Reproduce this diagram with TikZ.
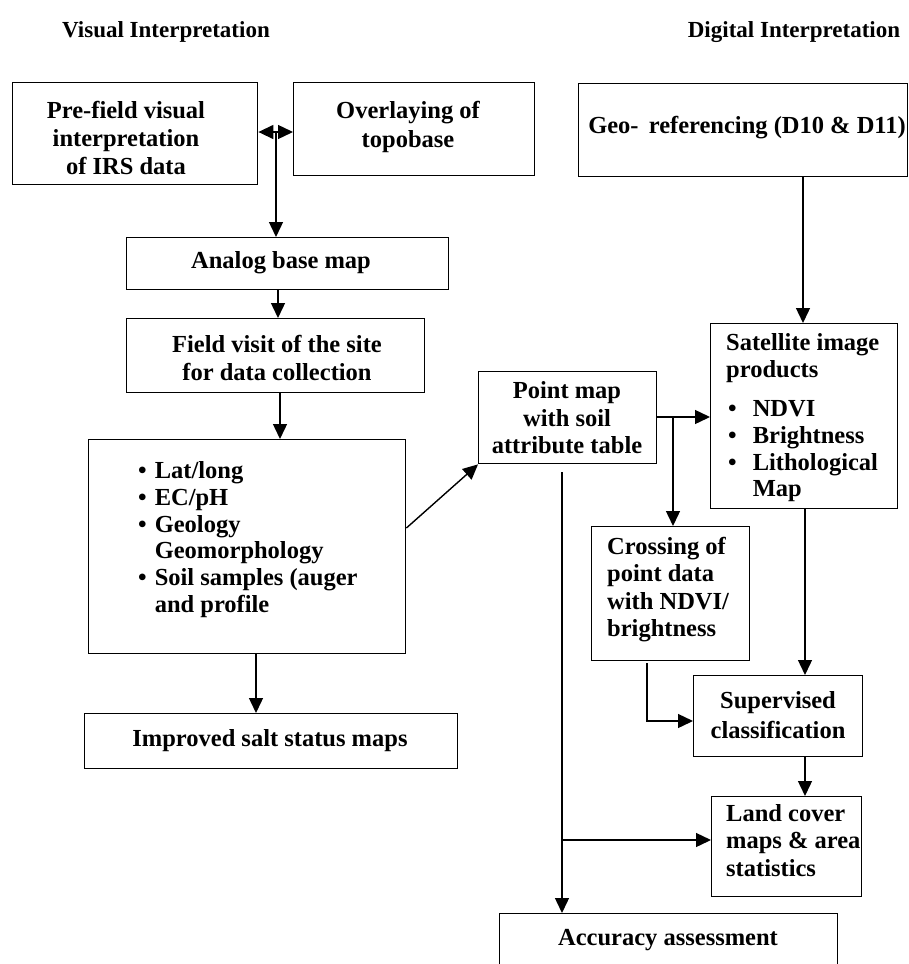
\documentclass[tikz,border=0pt]{standalone}
\usepackage{fontspec}
\setmainfont{Liberation Serif}
\usetikzlibrary{arrows.meta}
\begin{document}
\begin{tikzpicture}[x=1pt,y=-1pt,
  box/.style={draw,line width=1.4pt,inner sep=0pt,anchor=north west},
  txt/.style={font=\fontsize{24.5}{28}\selectfont\bfseries,align=center,inner sep=0pt},
  ltxt/.style={font=\fontsize{24.5}{27.5}\selectfont\bfseries,align=left,inner sep=0pt,anchor=north west},
  ttl/.style={font=\fontsize{23}{27}\selectfont\bfseries,inner sep=0pt},
  tip/.tip={Triangle[width=14pt,length=15pt]},
  arr/.style={line width=1.4pt,-tip},
  ln/.style={line width=1.4pt}]
\useasboundingbox (0,0) rectangle (909,964);
% titles
\node[ttl] (t1) at (166,32) {Visual Interpretation};
\node[ttl] (t2) at (794,32) {Digital Interpretation};
% boxes
\node[box,minimum width=245pt,minimum height=102pt] (pre) at (12,82) {};
\node[txt] (pret) at (126,138) {Pre-field visual\\interpretation\\of IRS data};
\node[box,minimum width=241pt,minimum height=93pt] (over) at (293,82) {};
\node[txt,font=\fontsize{24.5}{29}\selectfont\bfseries] (overt) at (408,127) {Overlaying of\\topobase};
\node[box,minimum width=329pt,minimum height=93pt] (geo) at (578,83) {};
\node[txt] (geot) at (747,128) {Geo-\, referencing (D10 \& D11)};
\node[box,minimum width=322pt,minimum height=52pt] (analog) at (126,237) {};
\node[txt] (analogt) at (281,263) {Analog base map};
\node[box,minimum width=298pt,minimum height=74pt] (field) at (126,318) {};
\node[txt] (fieldt) at (277,358) {Field visit of the site\\for data collection};
\node[box,minimum width=317pt,minimum height=214pt] (obs) at (88,439) {};
\node[ltxt,font=\fontsize{24.5}{26.7}\selectfont\bfseries] (obst) at (138,460) {%
\begin{tabular}{@{}l@{\hspace{8pt}}l@{}}
\textbullet & Lat/long\\
\textbullet & EC/pH\\
\textbullet & Geology\\
 & Geomorphology\\
\textbullet & Soil samples (auger\\
 & and profile
\end{tabular}};
\node[box,minimum width=373pt,minimum height=55pt] (imp) at (84,713) {};
\node[txt] (impt) at (270,741) {Improved salt status maps};
\node[box,minimum width=178pt,minimum height=92pt] (point) at (478,371) {};
\node[txt,font=\fontsize{24.5}{27.5}\selectfont\bfseries] (pointt) at (567,418) {Point map\\with soil\\attribute table};
\node[box,minimum width=187pt,minimum height=185pt] (sat) at (710,323) {};
\node[ltxt] (satt) at (726,333) {Satellite image\\products};
\node[ltxt,font=\fontsize{24.5}{26.7}\selectfont\bfseries] (satl) at (728,398) {%
\begin{tabular}{@{}l@{\hspace{16pt}}l@{}}
\textbullet & NDVI\\
\textbullet & Brightness\\
\textbullet & Lithological\\
 & Map
\end{tabular}};
\node[box,minimum width=158pt,minimum height=134pt] (cross) at (591,526) {};
\node[ltxt] (crosst) at (607,537) {Crossing of\\point data\\with NDVI/\\brightness};
\node[box,minimum width=169pt,minimum height=81pt] (sup) at (693,675) {};
\node[txt,font=\fontsize{24.5}{30}\selectfont\bfseries] (supt) at (778,715) {Supervised\\classification};
\node[box,minimum width=150pt,minimum height=100pt] (land) at (711,796) {};
\begin{scope}
\clip (711,796) rectangle (861,896);
\node[ltxt] (landt) at (726,804) {Land cover\\maps \& area\\statistics};
\end{scope}
\node[box,minimum width=338pt,minimum height=60pt] (acc) at (499,913) {};
\node[txt] (acct) at (668,940) {Accuracy assessment};
% connectors
\draw[ln,tip-tip] (pre.east |- 0,132) -- (over.west |- 0,132);
\coordinate (dj) at (276,133);
\draw[arr] (dj) -- (analog.north -| dj);
\draw[arr] (analog.south -| 278,0) -- (field.north -| 278,0);
\draw[arr] (field.south -| 280,0) -- (obs.north -| 280,0);
\draw[arr] (obs.south -| 256,0) -- (imp.north -| 256,0);
\draw[arr] (obs.east |- 0,528) -- (point.south west);
\draw[arr] (point.east |- 0,417) -- (sat.west |- 0,417);
\coordinate (br) at (673,417);
\draw[arr] (br) -- (cross.north -| br);
\draw[arr] (geo.south -| 803,0) -- (sat.north -| 803,0);
\draw[arr] (sat.south -| 805,0) -- (sup.north -| 805,0);
\coordinate (cb) at (647,663);
\draw[arr] (cb) -- (647,721) -- (sup.west |- 0,721);
\draw[arr] (sup.south -| 805,0) -- (land.north -| 805,0);
\coordinate (ps) at (562,472);
\draw[arr] (ps) -- (acc.north -| ps);
\coordinate (pj) at (562,840);
\draw[arr] (pj) -- (land.west |- pj);
\end{tikzpicture}
\end{document}
